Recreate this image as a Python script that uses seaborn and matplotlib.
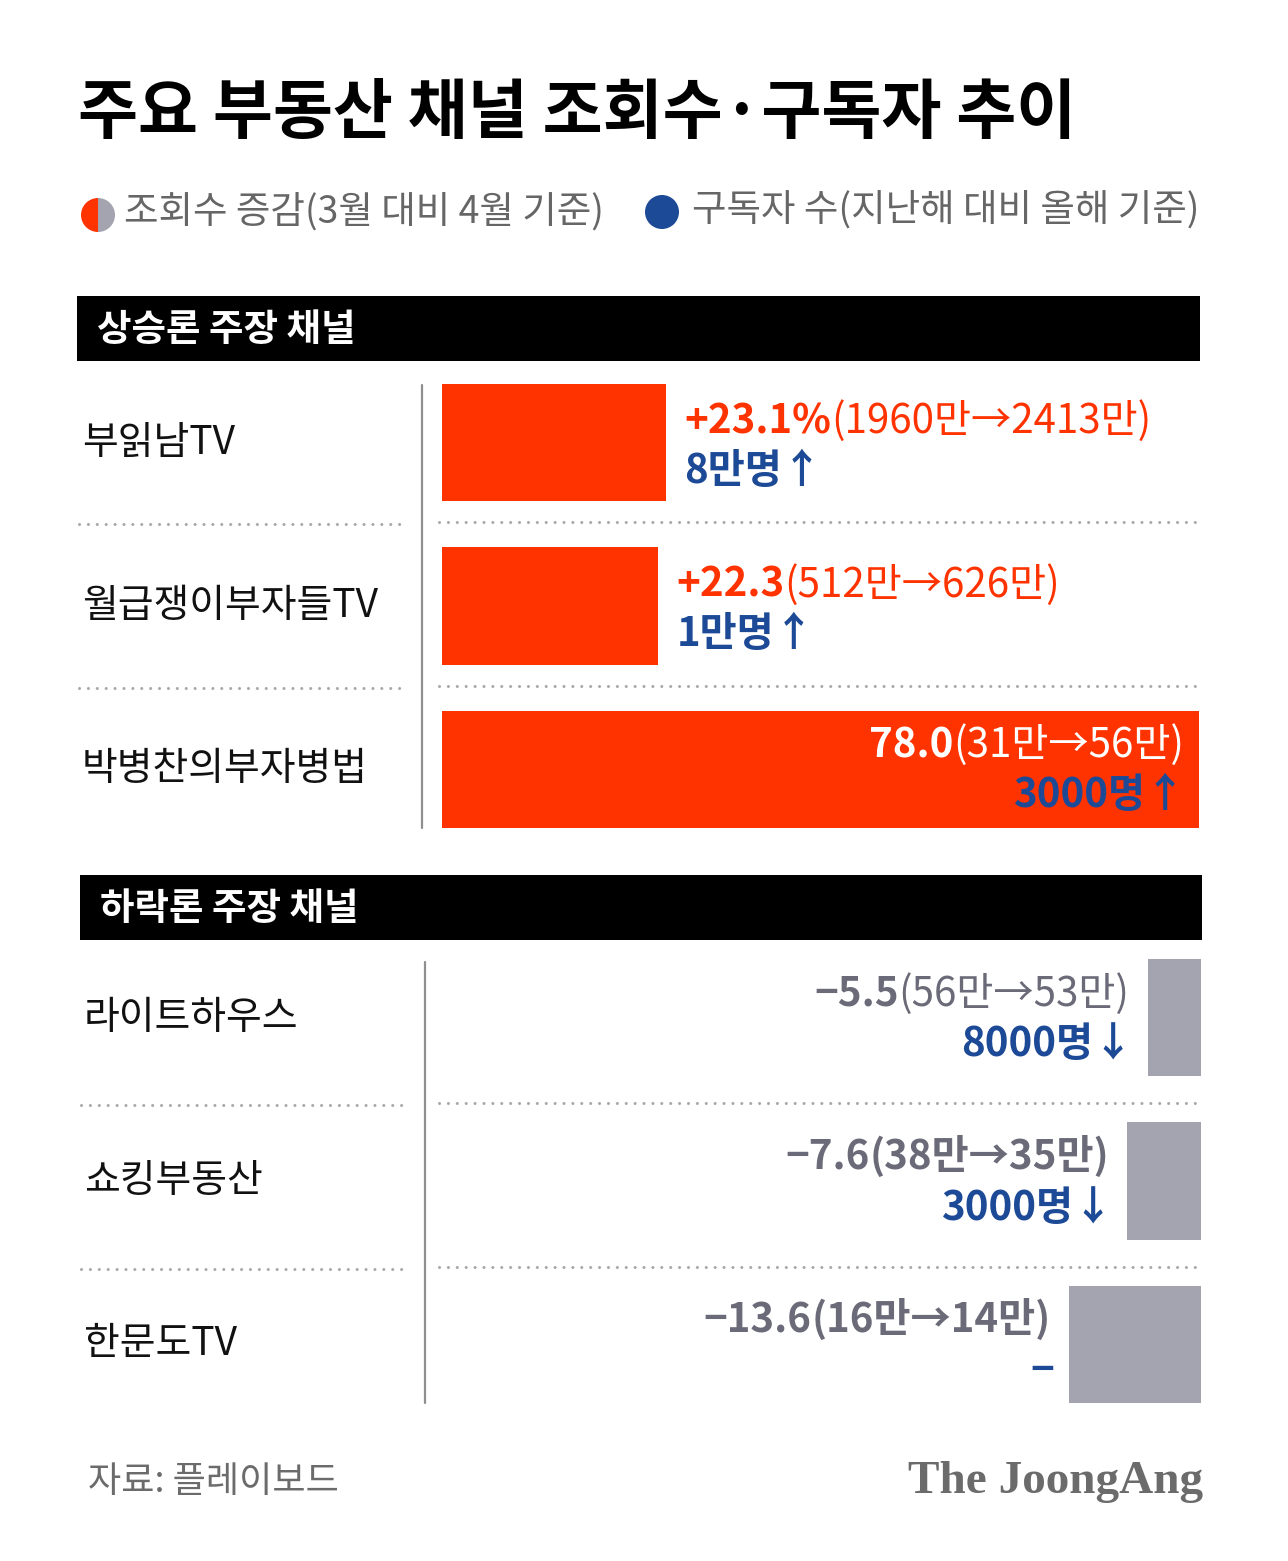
import numpy as np
import pandas as pd
import matplotlib
matplotlib.use("Agg")
import matplotlib.pyplot as plt
import seaborn as sns
from matplotlib.patches import Rectangle, Wedge, Circle
from matplotlib.lines import Line2D

# ---------------- data ----------------
title = "주요 부동산 채널 조회수·구독자 추이"
legend_views = "조회수 증감(3월 대비 4월 기준)"
legend_subs = "구독자 수(지난해 대비 올해 기준)"
up_header = "상승론 주장 채널"
down_header = "하락론 주장 채널"

up_channels = ["부읽남TV", "월급쟁이부자들TV", "박병찬의부자병법"]
up_change = [23.1, 22.3, 78.0]
up_value_labels = ["+23.1%", "+22.3", "78.0"]
up_range_labels = ["(1960만→2413만)", "(512만→626만)", "(31만→56만)"]
up_subs_labels = ["8만명↑", "1만명↑", "3000명↑"]

down_channels = ["라이트하우스", "쇼킹부동산", "한문도TV"]
down_change = [-5.5, -7.6, -13.6]
down_value_labels = ["−5.5", "−7.6", "−13.6"]
down_range_labels = ["(56만→53만)", "(38만→35만)", "(16만→14만)"]
down_range_bold = [False, True, True]
down_subs_labels = ["8000명↓", "3000명↓", "−"]

source = "자료: 플레이보드"
brand = "The JoongAng"

# ---------------- style ----------------
RED = "#ff3300"
GRAY_BAR = "#a3a4af"
BLUE = "#1d4a96"
GRAY_TXT = "#6a6a78"
LEG_TXT = "#666666"

sns.set_theme(style="white")
plt.rcParams["font.family"] = ["Noto Sans CJK KR", "DejaVu Sans"]

W, H = 1288, 1561
fig = plt.figure(figsize=(W / 100, H / 100), dpi=100)
fig.patch.set_facecolor("white")

deco = fig.add_axes([0, 0, 1, 1], zorder=0)
deco.set_xlim(0, W)
deco.set_ylim(H, 0)
deco.axis("off")


def px_axes(left, top, right, bottom):
    ax = fig.add_axes([left / W, 1 - bottom / H, (right - left) / W, (bottom - top) / H], zorder=2)
    ax.patch.set_alpha(0)
    return ax


# ---------------- title & legend ----------------
deco.text(78, 113, title, fontsize=47, fontweight="bold", color="black", va="center", ha="left")

deco.add_patch(Wedge((98, 215), 17, 90, 270, color=RED, lw=0))
deco.add_patch(Wedge((98, 215), 17, 270, 90, color=GRAY_BAR, lw=0))
deco.text(124, 212, legend_views, fontsize=27, color=LEG_TXT, va="center", ha="left")
deco.add_patch(Circle((662, 212), 17, color=BLUE, lw=0))
deco.text(692, 210, legend_subs, fontsize=27, color=LEG_TXT, va="center", ha="left")

# ---------------- section headers ----------------
deco.add_patch(Rectangle((77, 296), 1123, 65, color="black", lw=0))
deco.text(97, 329, up_header, fontsize=27, fontweight="bold", color="white", va="center", ha="left")
deco.add_patch(Rectangle((80, 875), 1122, 65, color="black", lw=0))
deco.text(100, 908, down_header, fontsize=27, fontweight="bold", color="white", va="center", ha="left")

# vertical axis lines
deco.add_line(Line2D([422, 422], [385, 828], color="#8f8f8f", lw=1.6))
deco.add_line(Line2D([425, 425], [962, 1403], color="#8f8f8f", lw=1.6))

# dotted separators
dot_kw = dict(color="#a8a8a8", lw=2.2, linestyle=(0, (0.01, 2.9)), dash_capstyle="round")
for y in (523, 687):
    deco.add_line(Line2D([79, 400], [y + 1, y + 1], **dot_kw))
    deco.add_line(Line2D([439, 1199], [y - 1, y - 1], **dot_kw))
for y in (1104, 1268):
    deco.add_line(Line2D([81, 402], [y + 1, y + 1], **dot_kw))
    deco.add_line(Line2D([439, 1200], [y - 1, y - 1], **dot_kw))

# ---------------- upward bars ----------------
df_up = pd.DataFrame({"channel": up_channels, "change": up_change})
ax_up = px_axes(442, 361, 1199, 851)
sns.barplot(data=df_up, x="change", y="channel", orient="h", color=RED, saturation=1,
            width=0.72, linewidth=0, ax=ax_up)
ax_up.set_xlim(0, max(up_change))
ax_up.set_ylim(2.5, -0.5)
ax_up.axis("off")

FS = 29
for i, (ch, v) in enumerate(zip(up_channels, up_change)):
    ax_up.annotate(ch, xy=(82 / W, i), xycoords=("figure fraction", "data"),
                   fontsize=28, color="#111111", va="center", ha="left", annotation_clip=False)
    inside = v > 60
    if not inside:
        t1 = ax_up.annotate(up_value_labels[i], xy=(v, i), xytext=(18, 21), textcoords="offset pixels",
                            fontsize=FS, fontweight="bold", color=RED, va="center", ha="left")
        ax_up.annotate(up_range_labels[i], xy=(1, 0), xycoords=t1, fontsize=FS,
                       color=RED, va="bottom", ha="left")
        ax_up.annotate(up_subs_labels[i], xy=(v, i), xytext=(18, -29), textcoords="offset pixels",
                       fontsize=FS, fontweight="bold", color=BLUE, va="center", ha="left")
    else:
        t2 = ax_up.annotate(up_range_labels[i], xy=(v, i), xytext=(-15, 24), textcoords="offset pixels",
                            fontsize=FS, color="white", va="center", ha="right")
        ax_up.annotate(up_value_labels[i], xy=(0, 0), xycoords=t2, fontsize=FS,
                       fontweight="bold", color="white", va="bottom", ha="right")
        ax_up.annotate(up_subs_labels[i], xy=(v, i), xytext=(-14, -26), textcoords="offset pixels",
                       fontsize=FS, fontweight="bold", color=BLUE, va="center", ha="right")

# ---------------- downward bars ----------------
df_dn = pd.DataFrame({"channel": down_channels, "change": down_change})
ax_dn = px_axes(442, 936, 1201, 1426)
sns.barplot(data=df_dn, x="change", y="channel", orient="h", color=GRAY_BAR, saturation=1,
            width=0.72, linewidth=0, ax=ax_dn)
ax_dn.set_xlim(-78.25, 0)
ax_dn.set_ylim(2.5, -0.5)
ax_dn.axis("off")

for i, (ch, v) in enumerate(zip(down_channels, down_change)):
    ax_dn.annotate(ch, xy=(84 / W, i), xycoords=("figure fraction", "data"),
                   fontsize=28, color="#111111", va="center", ha="left", annotation_clip=False)
    t2 = ax_dn.annotate(down_range_labels[i], xy=(v, i), xytext=(-18, 24), textcoords="offset pixels",
                        fontsize=FS, fontweight="bold" if down_range_bold[i] else "normal",
                        color=GRAY_TXT, va="center", ha="right")
    ax_dn.annotate(down_value_labels[i], xy=(0, 0), xycoords=t2, fontsize=FS,
                   fontweight="bold", color=GRAY_TXT, va="bottom", ha="right")
    sub_off = -14 if down_subs_labels[i] != "−" else -15
    ax_dn.annotate(down_subs_labels[i], xy=(v, i), xytext=(sub_off, -27), textcoords="offset pixels",
                   fontsize=FS, fontweight="bold", color=BLUE, va="center", ha="right")

# ---------------- footer ----------------
deco.text(88, 1482, source, fontsize=26, color="#6b6b6b", va="center", ha="left")
deco.text(1203, 1482, brand, fontsize=34, fontweight="bold", color="#6b6b6b", va="center",
          ha="right", family=["Liberation Serif", "DejaVu Serif"])

fig.savefig("out.png", dpi=100, facecolor="white")
